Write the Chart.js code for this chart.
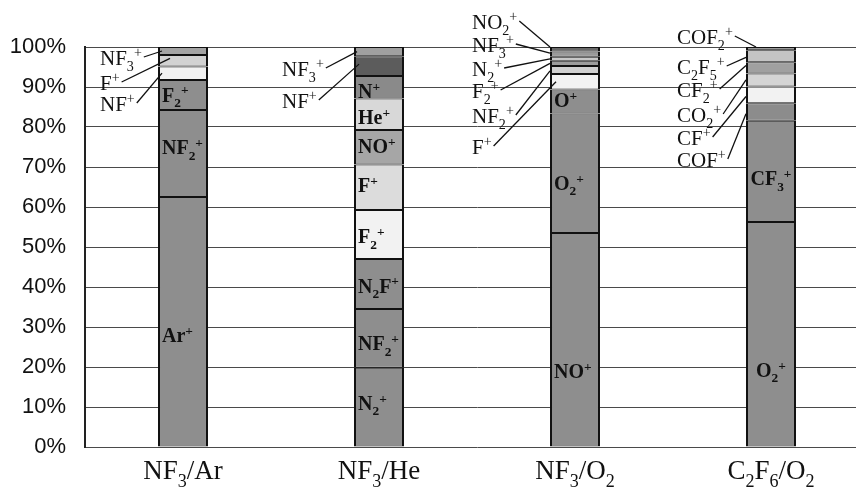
<!DOCTYPE html>
<html>
<head>
<meta charset="utf-8">
<script src="https://cdn.jsdelivr.net/npm/chart.js@4"></script>
<style>
  html, body { margin: 0; padding: 0; background: #fff; overflow: hidden; }
  canvas { display: block; }
</style>
</head>
<body>
<canvas id="ions" width="900" height="493"></canvas>
<script>
// Gas mixtures along the x axis ("_" = subscript, "^" = superscript)
const categories = ['NF_3/Ar', 'NF_3/He', 'NF_3/O_2', 'C_2F_6/O_2'];

// Ion species and their share of total ion flux (%), listed bottom to top
const arIons    = ['Ar^+', 'NF_2^+', 'F_2^+', 'NF^+', 'F^+', 'NF_3^+'];
const arShares  = [62.5, 21.75, 7.5, 3.4, 2.85, 2.0];

const heIons    = ['N_2^+', 'NF_2^+', 'N_2F^+', 'F_2^+', 'F^+', 'NO^+', 'He^+', 'N^+', 'NF^+', 'NF_3^+'];
const heShares  = [19.8, 14.7, 12.5, 12.25, 11.4, 8.6, 7.9, 5.6, 4.95, 2.3];

const o2Ions    = ['NO^+', 'O_2^+', 'O^+', 'F^+', 'NF_2^+', 'F_2^+', 'N_2^+', 'NF_3^+', 'NO_2^+'];
const o2Shares  = [53.5, 29.9, 6.0, 3.85, 2.0, 1.3, 1.0, 1.3, 1.15];

const c2f6Ions   = ['O_2^+', 'CF_3^+', 'COF^+', 'CF^+', 'CO_2^+', 'CF_2^+', 'C_2F_5^+', 'COF_2^+'];
const c2f6Shares = [56.25, 25.3, 4.4, 4.2, 3.25, 2.8, 3.0, 0.8];

// Y axis tick values (%)
const yTicks = [0, 10, 20, 30, 40, 50, 60, 70, 80, 90, 100];

// Grey shade of each segment
const arFills   = ['#8e8e8e', '#8e8e8e', '#8e8e8e', '#f2f2f2', '#d2d2d2', '#a4a4a4'];
const heFills   = ['#8e8e8e', '#8e8e8e', '#8e8e8e', '#f2f2f2', '#dcdcdc', '#a6a6a6', '#d8d8d8', '#8a8a8a', '#5c5c5c', '#a0a0a0'];
const o2Fills   = ['#8e8e8e', '#8e8e8e', '#8e8e8e', '#f2f2f2', '#d0d0d0', '#9c9c9c', '#c8c8c8', '#9a9a9a', '#6a6a6a'];
const c2f6Fills = ['#8e8e8e', '#8e8e8e', '#8c8c8c', '#f2f2f2', '#d4d4d4', '#a0a0a0', '#c4c4c4', '#9a9a9a'];

const ionLists   = [arIons, heIons, o2Ions, c2f6Ions];
const shareLists = [arShares, heShares, o2Shares, c2f6Shares];
const fillLists  = [arFills, heFills, o2Fills, c2f6Fills];

// Segments named inside the bar: [category, layer, vertical nudge px]
const insideLabels = [
  [0, 0, 14], [0, 1, -6], [0, 2, 0],
  [1, 0, -4], [1, 1, 5], [1, 2, 2], [1, 3, 2], [1, 4, -2], [1, 5, -1], [1, 6, 3], [1, 7, 4],
  [2, 0, 32], [2, 1, 10], [2, 2, -1],
  [3, 0, 36], [3, 1, 7]
];

// Segments named beside the bar with a leader line:
// [category, layer, text offset from bar left, text centre y, point along segment (0 top .. 1 bottom), reach into bar]
const callouts = [
  [0, 5, -58, 58, 0.5, 4], [0, 4, -58, 83, 0.3, 12], [0, 3, -58, 104, 0.5, 4],
  [1, 9, -72, 69, 0.5, 3], [1, 8, -72, 101, 0.4, 5],
  [2, 8, -78, 22, 0.0, 0], [2, 7, -78, 45, 0.3, 0], [2, 6, -78, 69, 0.5, 0],
  [2, 5, -78, 91, 0.5, 0], [2, 4, -78, 116, 0.6, 0], [2, 3, -78, 147, 0.5, 6],
  [3, 7, -69, 37, 0.0, 10], [3, 6, -69, 67, 0.6, 0], [3, 5, -69, 90, 0.3, 0],
  [3, 4, -69, 115, 0.5, 0], [3, 3, -69, 138, 0.6, 0], [3, 2, -69, 160, 0.6, 0]
];

const SERIF = '"Liberation Serif", "Times New Roman", serif';

// Split a label into normal / subscript / superscript runs
function richRuns(str) {
  const runs = [];
  for (let i = 0; i < str.length; i++) {
    const ch = str[i];
    if ((ch === '_' || ch === '^') && i + 1 < str.length) {
      runs.push({ t: str[i + 1], k: ch === '_' ? 'sub' : 'sup' });
      i++;
    } else {
      const last = runs[runs.length - 1];
      if (last && last.k === 'n') last.t += ch; else runs.push({ t: ch, k: 'n' });
    }
  }
  return runs;
}
// Draw (or just measure) a rich label; y is the baseline, returns the width
function richDraw(ctx, str, x, y, size, weight, measureOnly) {
  let cx = x;
  ctx.textBaseline = 'alphabetic';
  ctx.textAlign = 'left';
  for (const r of richRuns(str)) {
    const s = r.k === 'n' ? size : size * 0.67;
    const dy = r.k === 'sub' ? size * 0.28 : r.k === 'sup' ? -size * 0.36 : 0;
    ctx.font = `${weight} ${s}px ${SERIF}`;
    if (!measureOnly) ctx.fillText(r.t, cx, y + dy);
    cx += ctx.measureText(r.t).width;
  }
  return cx - x;
}

const maxLayers = Math.max(...ionLists.map(l => l.length));
const datasets = [];
for (let k = 0; k < maxLayers; k++) {
  datasets.push({
    label: 'layer ' + k,
    data: shareLists.map(s => (k < s.length ? s[k] : null)),
    backgroundColor: fillLists.map(f => f[k] || '#8e8e8e'),
    borderColor: '#111',
    borderWidth: { top: 1, bottom: 1, left: 2, right: 2 },
    borderSkipped: false,
    barPercentage: 0.255,
    categoryPercentage: 1.0
  });
}

const labelPlugin = {
  id: 'ionLabels',
  afterDatasetsDraw(chart) {
    const ctx = chart.ctx;
    const area = chart.chartArea;
    ctx.save();
    ctx.fillStyle = '#111';

    const seg = (c, k) => {
      const el = chart.getDatasetMeta(k).data[c];
      const top = Math.min(el.y, el.base), bottom = Math.max(el.y, el.base);
      return { left: el.x - el.width / 2, cx: el.x, top, bottom };
    };

    // names inside the bars
    for (const [c, k, nudge] of insideLabels) {
      const s = seg(c, k);
      const size = 20;
      const w = richDraw(ctx, ionLists[c][k], 0, 0, size, 'bold', true);
      const x = c === 3 ? Math.max(s.left + 4, s.cx - w / 2) : s.left + 4;
      const yc = (s.top + s.bottom) / 2 + nudge;
      richDraw(ctx, ionLists[c][k], x, yc + size * 0.33, size, 'bold');
    }

    // names beside the bars, with leader lines
    ctx.strokeStyle = '#111';
    ctx.lineWidth = 1.3;
    for (const [c, k, dx, yc, frac, reach] of callouts) {
      const s = seg(c, k);
      const size = 21;
      const tx = s.left + dx;
      const w = richDraw(ctx, ionLists[c][k], tx, yc + size * 0.33, size, 'normal');
      const ex = s.left + reach;
      const ey = s.top + (s.bottom - s.top) * frac;
      ctx.beginPath();
      ctx.moveTo(tx + w + 2, yc - 1);
      ctx.lineTo(ex, ey);
      ctx.stroke();
    }

    // category names under the axis
    const xs = chart.scales.x;
    categories.forEach((name, i) => {
      const size = 27;
      const w = richDraw(ctx, name, 0, 0, size, 'normal', true);
      const px = xs.getPixelForValue(i);
      richDraw(ctx, name, px - w / 2, area.bottom + 32, size, 'normal');
    });
    ctx.restore();
  }
};

new Chart(document.getElementById('ions'), {
  type: 'bar',
  data: { labels: categories, datasets },
  plugins: [labelPlugin],
  options: {
    responsive: false,
    animation: false,
    events: [],
    layout: { padding: { top: 47, bottom: 46, right: 31, left: 0 } },
    plugins: { legend: { display: false }, tooltip: { enabled: false } },
    scales: {
      x: {
        stacked: true,
        display: false
      },
      y: {
        stacked: true,
        min: 0,
        max: 100,
        afterFit(scale) { scale.width = 85; },
        afterBuildTicks(scale) { scale.ticks = yTicks.map(v => ({ value: v })); },
        ticks: {
          padding: 19,
          color: '#111',
          font: { family: '"Liberation Sans", Arial, sans-serif', size: 22 },
          callback: v => v + '%'
        },
        grid: { color: '#4a4a4a', lineWidth: 1, drawTicks: false },
        border: { display: true, color: '#222', width: 2 }
      }
    }
  }
});
</script>
</body>
</html>
